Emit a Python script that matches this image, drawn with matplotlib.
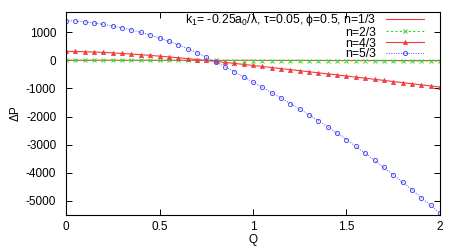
import matplotlib
matplotlib.use("Agg")
import matplotlib.pyplot as plt
import numpy as np

plt.rcParams['font.family'] = ['Liberation Sans', 'DejaVu Sans']
plt.rcParams['mathtext.fontset'] = 'custom'
plt.rcParams['mathtext.rm'] = 'Liberation Sans'
plt.rcParams['mathtext.it'] = 'Liberation Sans'

Q = [0.00, 0.05, 0.10, 0.15, 0.20, 0.25, 0.30, 0.35, 0.40, 0.45,
     0.50, 0.55, 0.60, 0.65, 0.70, 0.75, 0.80, 0.85, 0.90, 0.95,
     1.00, 1.05, 1.10, 1.15, 1.20, 1.25, 1.30, 1.35, 1.40, 1.45,
     1.50, 1.55, 1.60, 1.65, 1.70, 1.75, 1.80, 1.85, 1.90, 1.95, 2.00]

dP_n13 = [2, 2, 2, 2, 2, 1, 1, 1, 1, 1,
          0, 0, 0, 0, 0, 0, 0, -1, -1, -1,
          -1, -1, -2, -2, -2, -2, -3, -3, -3, -3,
          -4, -4, -4, -5, -5, -5, -6, -6, -6, -7, -7]

dP_n23 = [3, 3, 3, 2, 2, 2, 1, 1, 0, 0,
          -1, -1, -2, -2, -3, -3, -4, -5, -5, -6,
          -7, -7, -8, -9, -10, -10, -11, -12, -13, -14,
          -15, -16, -16, -17, -18, -19, -20, -21, -22, -23, -24]

dP_n43 = [320, 316, 308, 296, 282, 265, 246, 225, 202, 177,
          150, 122, 92, 61, 29, -4, -38, -73, -108, -144,
          -181, -218, -255, -292, -330, -368, -405, -443, -481, -519,
          -557, -596, -635, -674, -713, -752, -791, -831, -870, -910, -950]

dP_n53 = [1410, 1398, 1370, 1330, 1280, 1222, 1155, 1080, 995, 900,
          795, 680, 555, 418, 272, 115, -50, -225, -405, -590,
          -775, -960, -1150, -1340, -1535, -1735, -1940, -2150, -2365, -2590,
          -2820, -3060, -3305, -3555, -3810, -4070, -4335, -4605, -4880, -5160, -5440]

labels = [r"k$_1$= -0.25a$_0$/λ, τ=0.05, ϕ=0.5, n=1/3", "n=2/3", "n=4/3", "n=5/3"]
x_ticks = [0, 0.5, 1, 1.5, 2]
y_ticks = [1000, 0, -1000, -2000, -3000, -4000, -5000]

fig = plt.figure(figsize=(4.64, 2.49), dpi=100)
ax = fig.add_axes([66/464, 1-215/249, (440-66)/464, (215-12)/249])

red = '#f03c3c'
green = '#33d633'
blue = '#5050f5'

ax.plot(Q, dP_n13, color=red, lw=0.8, label=labels[0])
ax.plot(Q, dP_n23, color=green, lw=0.8, ls=(0, (2, 2)), marker='x', ms=3, mew=0.7, label=labels[1])
ax.plot(Q, dP_n43, color=red, lw=0.8, marker='^', ms=3, mew=0.5, label=labels[2])
ax.plot(Q, dP_n53, color=blue, lw=0.7, ls=(0, (1, 1.5)), marker='o', ms=3, mfc='none', mew=0.7, label=labels[3])

ax.set_xlim(0, 2)
ax.set_ylim(-5500, 1720)
ax.set_xticks(x_ticks)
ax.set_xticklabels([f"{t:g}" for t in x_ticks])
ax.set_yticks(y_ticks)
ax.set_yticklabels([f"{t}" for t in y_ticks])
ax.tick_params(direction='in', top=True, right=True, length=4, width=0.7, labelsize=8.5)
ax.tick_params(axis='y', pad=7)
ax.tick_params(axis='x', pad=4)
for s in ax.spines.values():
    s.set_linewidth(0.8)

ax.set_xlabel("Q", fontsize=8.5, labelpad=1)
ax.set_ylabel("ΔP", fontsize=8.5, labelpad=3)

leg = ax.legend(loc='upper right', bbox_to_anchor=((424-66)/374, 1.0),
                markerfirst=False, frameon=False, fontsize=8.8,
                numpoints=1, handlelength=3.1, handletextpad=0.8, labelspacing=-0.1,
                borderaxespad=0, borderpad=0)

fig.savefig("out.png", dpi=100)
